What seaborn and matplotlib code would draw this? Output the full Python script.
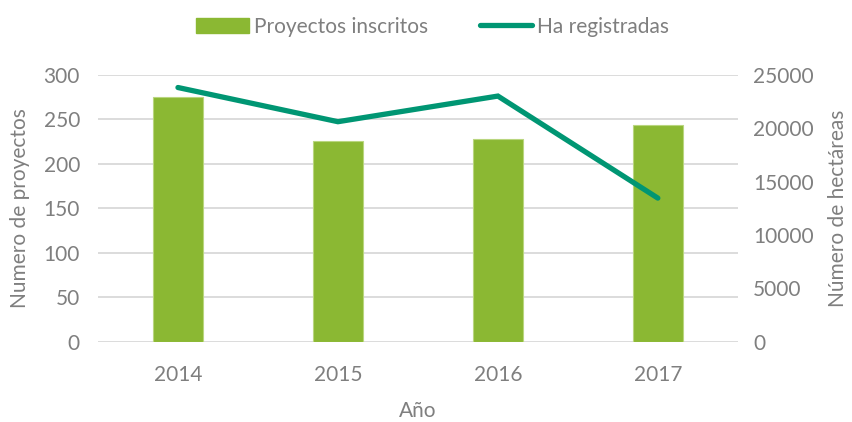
import matplotlib
matplotlib.use("Agg")
import matplotlib.pyplot as plt
import seaborn as sns
import pandas as pd
from matplotlib.patches import Patch
from matplotlib.lines import Line2D

years = ["2014", "2015", "2016", "2017"]
proyectos = [275, 225, 228, 243]
hectareas = [23800, 20600, 23000, 13450]

bar_color = "#8BB833"
line_color = "#009673"
text_color = "#7F7F7F"
grid_color = "#D9D9D9"
fs = 15

sns.set_theme(style="white")
plt.rcParams["font.family"] = ["Lato", "DejaVu Sans"]

df = pd.DataFrame({"Año": years, "Proyectos": proyectos, "Hectareas": hectareas})

fig = plt.figure(figsize=(8.52, 4.22), dpi=100)
ax = fig.add_axes([0.115, 0.19, 0.751, 0.633])

sns.barplot(data=df, x="Año", y="Proyectos", ax=ax, color=bar_color,
            width=0.31, edgecolor="#B9D67F", linewidth=0.8, saturation=1)
ax.set_ylim(0, 300)
ax.set_yticks(range(0, 301, 50))
ax.set_xlim(-0.5, len(years) - 0.5)
ax.yaxis.grid(True, color=grid_color, linewidth=1.3)
ax.set_axisbelow(True)

ax2 = ax.twinx()
sns.lineplot(data=df, x="Año", y="Hectareas", ax=ax2, color=line_color,
             linewidth=3.8, solid_capstyle="round", solid_joinstyle="miter")
ax2.set_ylim(0, 25000)
ax2.set_yticks(range(0, 25001, 5000))
ax2.set_xlim(-0.5, len(years) - 0.5)

for a in (ax, ax2):
    for s in a.spines.values():
        s.set_visible(False)
    a.tick_params(axis="both", length=0, labelsize=fs, colors=text_color)

ax.tick_params(axis="y", pad=13)
ax2.tick_params(axis="y", pad=11)
ax.tick_params(axis="x", pad=17)
ax.set_xlabel("Año", fontsize=fs, color=text_color, labelpad=11)
ax.set_ylabel("Numero de proyectos", fontsize=fs, color=text_color, labelpad=10)
ax2.set_ylabel("Número de hectáreas", fontsize=fs, color=text_color, labelpad=10,
               rotation=90)

handles = [Patch(facecolor=bar_color, edgecolor=bar_color, label="Proyectos inscritos"),
           Line2D([0], [0], color=line_color, linewidth=3.8, solid_capstyle="round",
                  label="Ha registradas")]
fig.legend(handles=handles, loc="upper center", bbox_to_anchor=(0.508, 1.005), ncol=2,
           frameon=False, fontsize=fs, labelcolor=text_color, handlelength=2.5,
           handletextpad=0.25, columnspacing=2.5)

fig.savefig("out.png", dpi=100)
